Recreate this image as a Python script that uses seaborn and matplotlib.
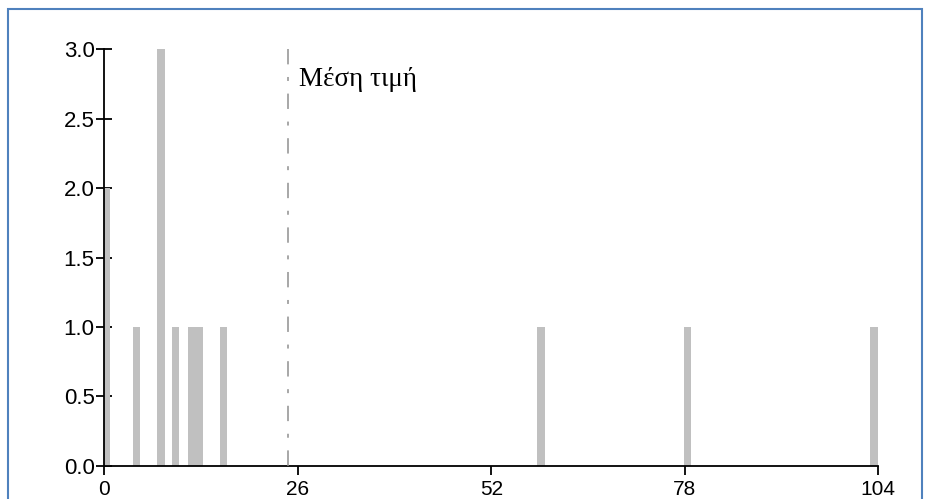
import matplotlib
matplotlib.use("Agg")
import matplotlib.pyplot as plt
from matplotlib.patches import Rectangle
import seaborn as sns
import pandas as pd

# Histogram bars: centre of each bin and its count
bin_centres = [0.3, 4.3, 7.6, 9.6, 11.7, 12.7, 16.0, 58.7, 78.4, 103.4]
bin_counts = [2, 1, 3, 1, 1, 1, 1, 1, 1, 1]
mean_value = 24.7
mean_label = "Μέση τιμή"

x_ticks = [0, 26, 52, 78, 104]
y_ticks = [0.0, 0.5, 1.0, 1.5, 2.0, 2.5, 3.0]

sns.set_style("white")
plt.rcParams["font.family"] = ["Liberation Sans Narrow", "Liberation Sans", "DejaVu Sans"]

fig = plt.figure(figsize=(9.25, 4.99), dpi=100)
ax = fig.add_axes([104.3 / 925, 33.3 / 499, 774.0 / 925, 416.4 / 499])

df = pd.DataFrame({"x": bin_centres, "count": bin_counts})
sns.barplot(data=df, x="x", y="count", native_scale=True, width=1.0,
            color="#c0c0c0", saturation=1, errorbar=None, linewidth=0, ax=ax)

# Mean line, dash-dot, drawn from the top downwards
ax.plot([mean_value, mean_value], [3.0, 0.0], color="#a0a0a0", lw=1.3,
        linestyle=(0, (8.5, 7.0, 2.2, 7.0)), zorder=3)
ax.annotate(mean_label, xy=(mean_value, 2.78), xytext=(8.0, 0),
            textcoords="offset points", ha="left", va="center",
            fontsize=19.5, family=["Liberation Serif", "DejaVu Serif"], color="black")

ax.set_xlim(0, 104)
ax.set_ylim(0, 3.0)
ax.set_xticks(x_ticks)
ax.set_xticklabels([str(v) for v in x_ticks])
ax.set_yticks(y_ticks)
ax.set_yticklabels([f"{v:.1f}" for v in y_ticks])
ax.set_xlabel("")
ax.set_ylabel("")

for side in ("top", "right"):
    ax.spines[side].set_visible(False)
for side in ("left", "bottom"):
    ax.spines[side].set_color("black")
    ax.spines[side].set_linewidth(1.3)

ax.tick_params(axis="y", direction="inout", length=12, width=1.3, pad=1,
               labelsize=16, colors="black", left=True)
ax.tick_params(axis="x", direction="out", length=6.5, width=1.3, pad=3.5,
               labelsize=15, colors="black", bottom=True)

# Frame around the figure (bottom edge lies outside the image)
fig.patches.append(Rectangle((7.5 / 925, -0.1), 914.0 / 925, 1.1 - 9.5 / 499,
                             transform=fig.transFigure, fill=False,
                             edgecolor="#4f81bd", linewidth=1.5, zorder=10))

fig.savefig("out.png", dpi=100)
